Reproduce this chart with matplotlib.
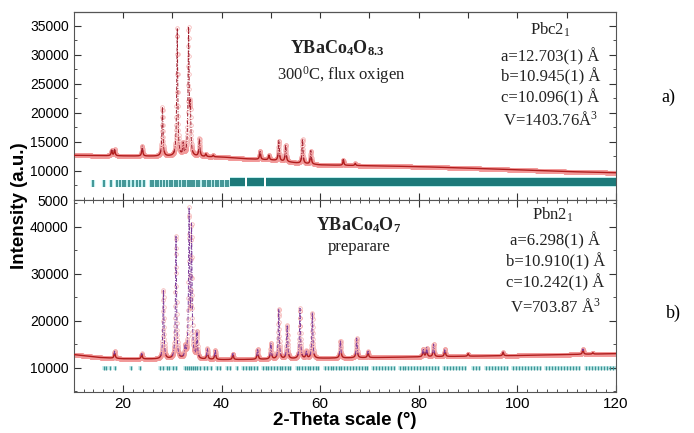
import numpy as np
import matplotlib
matplotlib.use('Agg')
import matplotlib.pyplot as plt
from matplotlib.ticker import MultipleLocator

plt.rcParams['font.family'] = ['Liberation Sans', 'DejaVu Sans']
plt.rcParams['mathtext.fontset'] = 'custom'
plt.rcParams['mathtext.rm'] = 'Liberation Serif'
plt.rcParams['mathtext.bf'] = 'Liberation Serif:bold'
plt.rcParams['mathtext.it'] = 'Liberation Serif:italic'

# --- a) YBaCo4O8.3, 300 C flux oxigen ---
fond_a_x = [10, 20, 30, 40, 45, 50, 55, 60, 70, 80, 90, 100, 110, 120]
fond_a_y = [12700, 12600, 12500, 12400, 12100, 11900, 11400, 11050, 10900, 10750, 10500, 10200, 9900, 9700]
picos_a_pos = [17.7, 18.3, 23.9, 28.0, 31.0, 32.2, 33.3, 33.65, 35.5, 36.8, 38.3, 47.8, 49.6, 51.6,
               53.0, 56.4, 58.1, 64.7, 67.1]
picos_a_int = [13600, 13700, 14300, 21000, 34500, 14500, 34000, 20000, 15500, 12900, 12700, 13500, 12700, 15200,
               14500, 15500, 13500, 11900, 11300]
bragg_a = [14.0, 16.1, 17.6, 18.7, 19.4, 19.9, 20.4, 21.3, 22.1, 22.8, 23.4, 24.3, 25.6, 26.1, 26.6, 27.2,
           27.8, 28.3, 28.9, 29.5, 30.0, 30.5, 31.0, 31.6, 32.1, 32.6, 33.1, 33.6, 34.0, 34.5, 35.0, 35.5,
           36.2, 36.7, 37.2, 37.7, 38.3, 38.8, 39.3, 39.8, 40.3, 40.8, 41.3]
bragg_a_faixas = [(41.7, 44.8), (45.2, 48.6), (49.0, 120.0)]

# --- b) YBaCo4O7, preparare ---
fond_b_x = [10, 15, 20, 30, 40, 50, 60, 80, 100, 120]
fond_b_y = [12800, 12200, 11900, 11800, 11700, 11800, 12000, 12300, 12600, 13000]
picos_b_pos = [18.3, 23.8, 28.2, 30.75, 32.6, 33.4, 33.9, 35.0, 37.1, 38.7, 42.3, 47.3, 50.0, 51.6, 53.3,
               55.9, 57.2, 58.4, 64.1, 67.4, 69.7, 80.9, 81.6, 83.0, 85.3, 90.0, 97.1, 113.3, 115.3]
picos_b_int = [13500, 13000, 26500, 38000, 14000, 42500, 39000, 17400, 14000, 13800, 13000, 14000, 15200, 22400,
               19000, 22600, 13500, 21700, 15800, 16300, 13500, 14000, 14200, 15000, 14000, 13000, 13300, 14000, 13200]
bragg_b = [16.2, 16.6, 17.4, 18.4, 21.6, 23.5, 27.5, 28.2, 28.9, 29.4, 30.2, 30.8, 32.6, 33.0, 33.4, 33.8,
           34.2, 34.6, 35.0, 35.6, 36.4, 37.1, 37.8, 39.0, 39.7, 41.0, 41.7, 43.1, 44.4, 44.9, 45.5, 46.0,
           46.6, 47.1, 48.4, 49.0, 49.5, 50.1, 50.6, 51.2, 51.8, 52.3, 52.9, 53.4, 53.9, 55.2, 55.8, 56.3,
           56.9, 57.5, 58.0, 58.6, 59.1, 59.6, 61.0, 61.5, 62.1, 62.6, 63.2, 63.8, 64.3, 64.9, 65.5, 66.0,
           66.6, 67.2, 67.8, 68.4, 69.0, 69.5, 70.7, 71.3, 71.9, 72.5, 73.1, 73.7, 74.3, 74.9, 76.1, 76.7,
           77.3, 77.9, 78.5, 79.1, 79.7, 80.3, 80.9, 81.5, 82.1, 82.7, 83.3, 83.9, 85.2, 85.8, 86.4, 87.0,
           87.6, 88.2, 88.8, 89.4, 91.0, 91.6, 92.2, 93.6, 94.2, 94.8, 95.4, 96.0, 96.6, 97.2, 97.8, 99.1,
           99.7, 100.3, 100.9, 101.5, 102.1, 102.7, 103.3, 103.9, 104.5, 105.8, 106.4, 107.0, 107.6, 108.2,
           108.8, 109.4, 110.0, 110.6, 111.2, 111.8, 112.4, 113.9, 114.5, 115.1, 115.7, 116.3, 116.9, 117.5,
           118.1, 118.7, 119.3, 119.9]

largura = 0.24


def perfil(x, fx, fy, pos, alt):
    fundo = np.interp(x, fx, fy)
    picos = np.zeros_like(x)
    for p, h in zip(pos, alt):
        h0 = h - np.interp(p, fx, fy)
        picos += h0 / (1 + ((x - p) / (largura / 2)) ** 2)
    return fundo, picos


x_calc = np.arange(10, 120.001, 0.01)
x_obs = np.arange(10, 120.001, 0.03)

fig = plt.figure(figsize=(6.94, 4.33), dpi=100)
ax1 = fig.add_axes([0.1062, 0.5381, 0.7814, 0.4342])
ax2 = fig.add_axes([0.1062, 0.0954, 0.7814, 0.4427])

for ax, fx, fy, pos, alt, cor_pico in [(ax1, fond_a_x, fond_a_y, picos_a_pos, picos_a_int, '#a02030'),
                                      (ax2, fond_b_x, fond_b_y, picos_b_pos, picos_b_int, '#7a3a9a')]:
    f_o, p_o = perfil(x_obs, fx, fy, pos, alt)
    f_c, p_c = perfil(x_calc, fx, fy, pos, alt)
    ax.plot(x_obs, f_o + p_o, 'o', ms=2.6, mfc='none', mec='#f29a9a', mew=0.55, alpha=0.75, zorder=2)
    base = np.where(p_c <= 900, f_c + p_c, np.nan)
    ax.plot(x_calc, base, color='#b01c1c', lw=1.0, zorder=3)
    pico = np.where(p_c > 700, f_c + p_c, np.nan)
    ax.plot(x_calc, pico, color=cor_pico, lw=0.7, ls=(0, (4, 1.5, 1, 1.5)), zorder=4)

# bragg ticks
ax1.vlines(bragg_a, 7300, 8400, color='#bfeeee', lw=3.0, zorder=1)
ax1.vlines(bragg_a, 7300, 8400, color='#217f7f', lw=1.1, zorder=2)
for a, b in bragg_a_faixas:
    ax1.fill_between([a, b], 7200, 8900, color='#bfeeee', lw=0, zorder=1)
    ax1.fill_between([a, b], 7450, 8750, color='#1d7a7a', lw=0, zorder=2)
ax2.vlines(bragg_b, 9500, 10400, color='#c9eeee', lw=2.6, zorder=1)
ax2.vlines(bragg_b, 9500, 10400, color='#3a9595', lw=1.0, zorder=2)

ax1.set_ylim(5000, 37400)
ax2.set_ylim(4900, 45700)
ax1.yaxis.set_major_locator(MultipleLocator(5000))
ax1.yaxis.set_minor_locator(MultipleLocator(2500))
ax2.yaxis.set_major_locator(MultipleLocator(10000))
ax2.yaxis.set_minor_locator(MultipleLocator(5000))
for ax in (ax1, ax2):
    ax.set_xlim(10, 120)
    ax.xaxis.set_major_locator(MultipleLocator(20))
    ax.xaxis.set_minor_locator(MultipleLocator(2))
    ax.tick_params(which='both', direction='in', right=True, labelsize=10, color='#333333')
    ax.tick_params(which='major', length=5)
    ax.tick_params(which='minor', length=2.5)
    for s in ax.spines.values():
        s.set_color('#555555')
ax1.tick_params(labelbottom=False)
ax2.tick_params(which='both', top=True)
ax2.tick_params(axis='x', labelsize=11)
topo = ax1.secondary_xaxis('top')
topo.set_xticks([20, 30, 40, 50, 60, 70, 80, 90, 100, 110])
topo.tick_params(direction='in', length=4, labeltop=False, color='#333333')

ax2.set_xlabel('2-Theta scale (°)', fontsize=13.5, fontweight='bold', labelpad=1)
fig.text(0.028, 0.525, 'Intensity (a.u.)', rotation=90, fontsize=13.5, fontweight='bold',
         ha='center', va='center')

serif = dict(family='Liberation Serif', fontsize=12, ha='center', va='center', color='#222222')
bold = dict(serif, fontsize=13)
ax1.text(0.486, 0.81, r'$\mathbf{YBaCo_4O_{8.3}}$', transform=ax1.transAxes, **bold)
ax1.text(0.493, 0.665, r'300$^0$C, flux oxigen', transform=ax1.transAxes, **serif)
ax1.text(0.879, 0.904, r'Pbc2$_1$', transform=ax1.transAxes, **serif)
ax1.text(0.879, 0.76, 'a=12.703(1) Å', transform=ax1.transAxes, **serif)
ax1.text(0.879, 0.654, 'b=10.945(1) Å', transform=ax1.transAxes, **serif)
ax1.text(0.879, 0.543, 'c=10.096(1) Å', transform=ax1.transAxes, **serif)
ax1.text(0.879, 0.426, r'V=1403.76Å$^3$', transform=ax1.transAxes, **serif)

ax2.text(0.525, 0.87, r'$\mathbf{YBaCo_4O_7}$', transform=ax2.transAxes, **bold)
ax2.text(0.527, 0.757, 'preparare', transform=ax2.transAxes, **serif)
ax2.text(0.883, 0.922, r'Pbn2$_1$', transform=ax2.transAxes, **serif)
ax2.text(0.888, 0.79, 'a=6.298(1) Å', transform=ax2.transAxes, **serif)
ax2.text(0.888, 0.68, 'b=10.910(1) Å', transform=ax2.transAxes, **serif)
ax2.text(0.888, 0.567, 'c=10.242(1) Å', transform=ax2.transAxes, **serif)
ax2.text(0.888, 0.444, r'V=703.87 Å$^3$', transform=ax2.transAxes, **serif)

fig.text(0.963, 0.776, 'a)', family='Liberation Serif', fontsize=13, ha='center', va='center')
fig.text(0.970, 0.277, 'b)', family='Liberation Serif', fontsize=13, ha='center', va='center')

fig.savefig('out.png', dpi=100)
